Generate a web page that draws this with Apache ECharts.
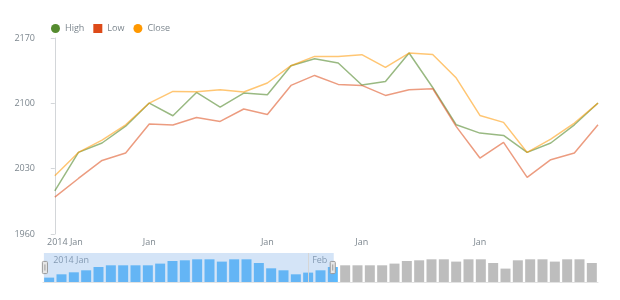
<!DOCTYPE html>
<html><head><meta charset="utf-8">
<script src="https://cdn.jsdelivr.net/npm/echarts@6/dist/echarts.min.js"></script>
<style>html,body{margin:0;padding:0;background:#fff}#c{width:620px;height:300px}</style>
</head><body><div id="c"></div>
<script>
// ---- data ----
var highVals  = [2006.3,2047.4,2057.5,2075.5,2100.3,2086.7,2111.7,2096.0,2111.0,2109.2,2140.3,2147.8,2143.2,2119.6,2123.5,2153.9,2117.0,2077.0,2068.1,2065.6,2047.4,2057.5,2077.0,2100.3];
var lowVals   = [1999.6,2019.5,2038.8,2046.7,2077.8,2076.7,2084.9,2080.6,2093.9,2088.1,2119.2,2129.9,2120.3,2119.2,2108.5,2114.5,2115.7,2075.0,2041.4,2058.1,2020.6,2039.6,2046.7,2077.1];
var closeVals = [2022.4,2047.4,2060.5,2077.0,2100.3,2112.8,2112.4,2114.6,2112.1,2121.8,2140.3,2150.3,2150.3,2152.1,2138.5,2153.9,2152.4,2127.1,2087.0,2079.6,2047.4,2061.7,2078.9,2100.3];
var volumeVals = [4.4,7.7,9.7,11.7,15.0,16.7,16.7,16.7,16.7,18.4,21.0,21.7,22.7,22.7,20.4,22.7,22.7,19.0,13.7,11.7,7.7,9.4,11.7,15.0,
                  16.7,16.7,16.7,16.7,18.4,21.0,21.7,22.7,22.7,20.4,22.7,22.7,19.0,13.4,21.7,22.7,22.7,20.4,22.7,22.7,19.0];
var xLabelPos  = [-0.5, 4, 9, 13, 18];
var xLabelText = ['2014 Jan', 'Jan', 'Jan', 'Jan', 'Jan'];
var navLabelPos  = [0, 21];
var navLabelText = ['2014 Jan', 'Feb'];
var navMonthLine = 21;
var selectedEnd = 23;
var yTicks = [1960, 2030, 2100, 2170];

function pairs(arr){ return arr.map(function(v,i){ return [i, v]; }); }

var txt = '#7c868e';
var font = 'Open Sans';
var chart = echarts.init(document.getElementById('c'));
chart.setOption({
  animation: false,
  textStyle: { fontFamily: font },
  legend: {
    left: 46, top: 19, itemWidth: 9, itemHeight: 9, itemGap: 9,
    textStyle: { color: txt, fontSize: 9, fontFamily: font },
    data: [
      { name: 'High', icon: 'circle' },
      { name: 'Low', icon: 'rect' },
      { name: 'Close', icon: 'circle' }
    ]
  },
  grid: [
    { left: 43, right: 22, top: 38, bottom: 66 },
    { left: 43, right: 22, top: 253, bottom: 18 }
  ],
  xAxis: [
    {
      type: 'value', gridIndex: 0, min: -0.5, max: 44.5, interval: 0.5,
      axisLine: { show: false }, axisTick: { show: false }, splitLine: { show: false },
      axisLabel: {
        color: txt, fontSize: 9, fontFamily: font, margin: 4,
        alignMinLabel: 'left',
        formatter: function (v) {
          for (var i = 0; i < xLabelPos.length; i++) {
            if (Math.abs(v - xLabelPos[i]) < 1e-6) {
              return i === 0 ? '{f|' + xLabelText[i] + '}' : xLabelText[i];
            }
          }
          return '';
        },
        rich: { f: { padding: [0, 0, 0, 4], color: txt, fontSize: 9, fontFamily: font } }
      }
    },
    {
      type: 'value', gridIndex: 1, min: -0.5, max: 44.5, interval: 0.5, position: 'top',
      axisLine: { show: true, lineStyle: { color: '#e2e2e2', width: 1 } },
      axisTick: { show: false }, splitLine: { show: false },
      axisLabel: {
        inside: true, margin: 3, align: 'left', padding: [0, 0, 0, 4],
        color: '#8a939b', fontSize: 9, fontFamily: font,
        formatter: function (v) {
          for (var i = 0; i < navLabelPos.length; i++) {
            if (Math.abs(v - navLabelPos[i]) < 1e-6) return navLabelText[i];
          }
          return '';
        }
      }
    }
  ],
  yAxis: [
    {
      type: 'value', gridIndex: 0, min: yTicks[0], max: yTicks[yTicks.length - 1], interval: 70,
      axisLine: { show: true, lineStyle: { color: '#d3d6d9', width: 1 } },
      axisTick: { show: true, length: 4, lineStyle: { color: '#d3d6d9' } },
      splitLine: { show: false },
      axisLabel: { color: txt, fontSize: 9, fontFamily: font, margin: 8,
        formatter: function (v) { return String(v); } }
    },
    { type: 'value', gridIndex: 1, min: 0, max: 29, show: false }
  ],
  dataZoom: [{
    type: 'slider', xAxisIndex: 0, startValue: -0.5, endValue: selectedEnd,
    left: 43, right: 22, top: 253, height: 29,
    backgroundColor: 'rgba(0,0,0,0)', borderColor: 'rgba(0,0,0,0)',
    fillerColor: 'rgba(120,170,230,0.32)',
    showDataShadow: false, showDetail: false, brushSelect: false, moveHandleSize: 0,
    handleIcon: 'path://M1,0h3a1,1,0,0,1,1,1v10a1,1,0,0,1,-1,1h-3a1,1,0,0,1,-1,-1v-10a1,1,0,0,1,1,-1z M2.5,3v6',
    handleSize: '42%',
    handleStyle: { color: '#e6e6e6', borderColor: '#9a9a9a', borderWidth: 1 },
    emphasis: { handleStyle: { color: '#e6e6e6', borderColor: '#9a9a9a' } },
    dataBackground: { lineStyle: { opacity: 0 }, areaStyle: { opacity: 0 } }
  }],
  series: [
    {
      name: 'High', type: 'line', xAxisIndex: 0, yAxisIndex: 0, data: pairs(highVals),
      showSymbol: false, symbol: 'none', color: '#558b2f',
      lineStyle: { width: 1.5, opacity: 0.6 }
    },
    {
      name: 'Low', type: 'line', xAxisIndex: 0, yAxisIndex: 0, data: pairs(lowVals),
      showSymbol: false, symbol: 'none', color: '#dd4a18',
      lineStyle: { width: 1.5, opacity: 0.55 }
    },
    {
      name: 'Close', type: 'line', xAxisIndex: 0, yAxisIndex: 0, data: pairs(closeVals),
      showSymbol: false, symbol: 'none', color: '#ff9800',
      lineStyle: { width: 1.5, opacity: 0.55 }
    },
    {
      name: 'Volume', type: 'bar', xAxisIndex: 1, yAxisIndex: 1, data: pairs(volumeVals),
      barWidth: 10, silent: true,
      itemStyle: {
        color: function (p) { return p.dataIndex <= selectedEnd ? '#5bbafd' : '#bdbdbd'; }
      },
      markLine: {
        silent: true, symbol: 'none', label: { show: false },
        lineStyle: { color: '#d6d6d6', width: 1, type: 'solid' },
        data: [{ xAxis: navMonthLine }]
      }
    }
  ]
});
</script>
</body></html>
